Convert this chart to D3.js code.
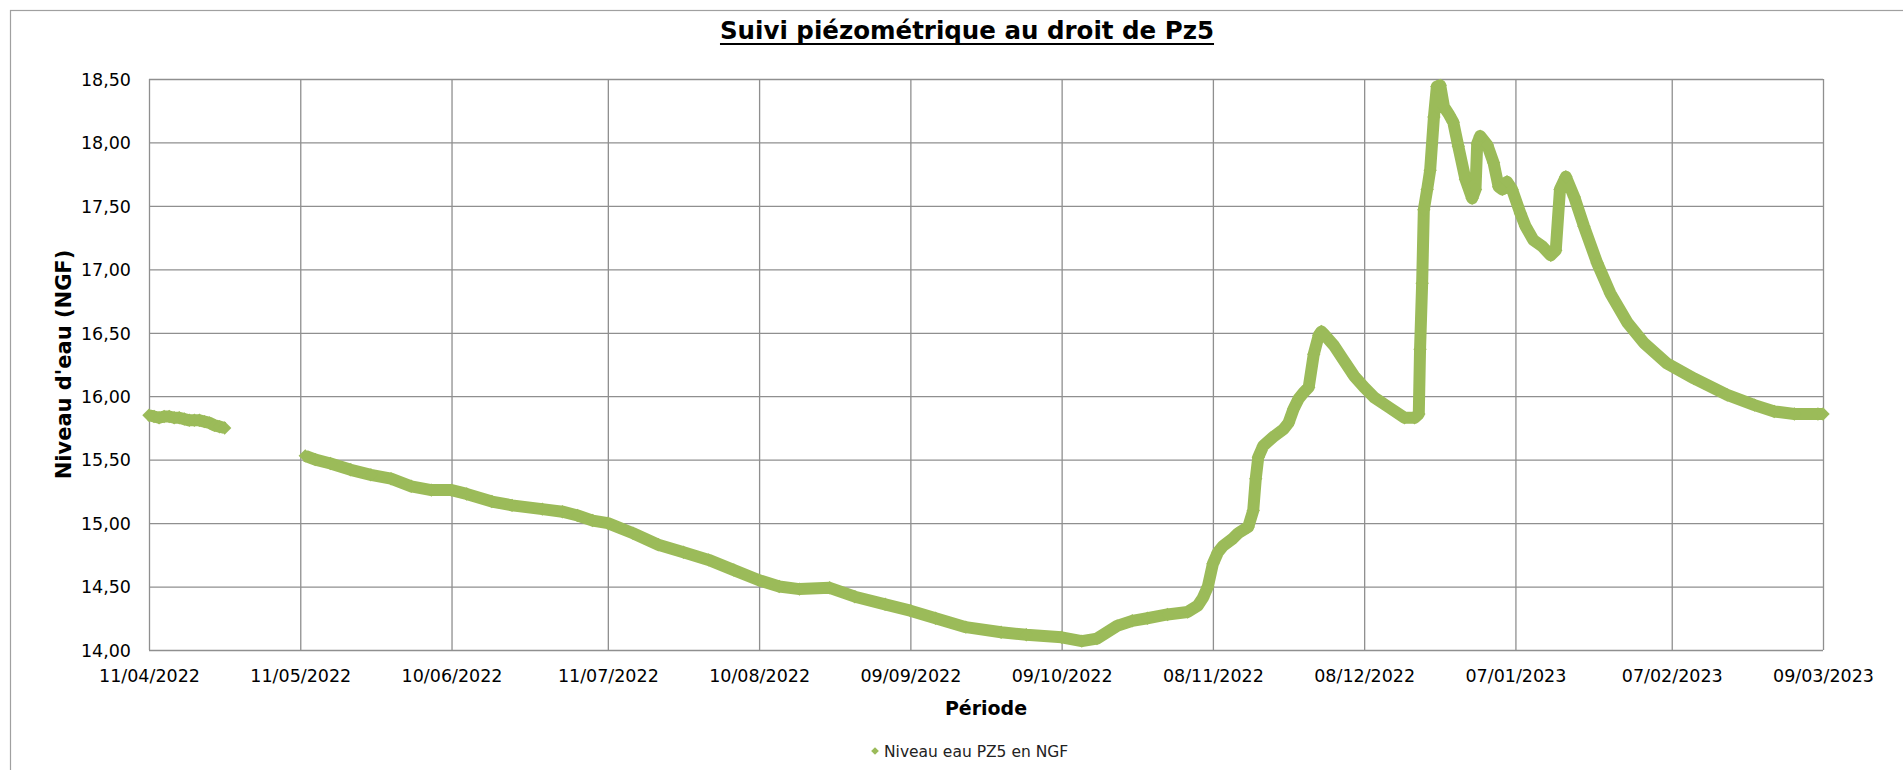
<!DOCTYPE html>
<html>
<head>
<meta charset="utf-8">
<script src="https://cdn.jsdelivr.net/npm/d3@7"></script>
<style>
html, body { margin: 0; padding: 0; background: #fff; overflow: hidden; }
svg { display: block; font-family: "DejaVu Sans", sans-serif; }
</style>
</head>
<body>
<svg id="chart" width="1903" height="770"></svg>
<script>
const chartTitle = "Suivi piézométrique au droit de Pz5";
const yTitle = "Niveau d'eau (NGF)";
const xTitle = "Période";
const seriesName = "Niveau eau PZ5 en NGF";

const xTickLabels = ["11/04/2022","11/05/2022","10/06/2022","11/07/2022","10/08/2022","09/09/2022",
    "09/10/2022","08/11/2022","08/12/2022","07/01/2023","07/02/2023","09/03/2023"];
const yTicks = [14, 14.5, 15, 15.5, 16, 16.5, 17, 17.5, 18, 18.5];

// relevés (null = pas de mesure)
const dates = [
    "2022-04-11","2022-04-12","2022-04-13","2022-04-14","2022-04-15","2022-04-16","2022-04-17","2022-04-18",
    "2022-04-19","2022-04-20","2022-04-21","2022-04-22","2022-04-23","2022-04-24","2022-04-25","2022-04-26",
    "2022-05-01",
    "2022-05-12","2022-05-14","2022-05-17","2022-05-21","2022-05-25","2022-05-29","2022-06-02","2022-06-06",
    "2022-06-10","2022-06-13","2022-06-18","2022-06-22","2022-06-28","2022-07-02","2022-07-05","2022-07-08",
    "2022-07-11","2022-07-16","2022-07-21","2022-07-26","2022-07-31","2022-08-05","2022-08-10","2022-08-14",
    "2022-08-18","2022-08-24","2022-08-29","2022-09-04","2022-09-09","2022-09-14","2022-09-20","2022-09-27",
    "2022-10-02","2022-10-09","2022-10-13","2022-10-16","2022-10-20","2022-10-23","2022-10-26","2022-10-30",
    "2022-11-03","2022-11-05","2022-11-06","2022-11-07","2022-11-08","2022-11-09","2022-11-10","2022-11-12",
    "2022-11-13","2022-11-15","2022-11-16","2022-11-16 12:00","2022-11-17","2022-11-18","2022-11-20","2022-11-22",
    "2022-11-23","2022-11-24","2022-11-25","2022-11-26","2022-11-27","2022-11-28","2022-11-29","2022-11-29 12:00",
    "2022-11-30","2022-12-02","2022-12-04","2022-12-06","2022-12-08","2022-12-10","2022-12-13","2022-12-16",
    "2022-12-18","2022-12-18 20:00","2022-12-19 02:00","2022-12-19 12:00","2022-12-19 20:00","2022-12-20 12:00",
    "2022-12-21 02:00","2022-12-21 20:00","2022-12-22 10:00","2022-12-23 02:00","2022-12-23 20:00",
    "2022-12-24 20:00","2022-12-25 16:00","2022-12-26 16:00","2022-12-28 02:00","2022-12-29 10:00",
    "2022-12-30 02:00","2022-12-30 10:00","2022-12-31","2023-01-01 10:00","2023-01-02 16:00","2023-01-03 16:00",
    "2023-01-04 10:00","2023-01-05 08:00","2023-01-06 08:00","2023-01-08","2023-01-09","2023-01-10 14:00",
    "2023-01-12 08:00","2023-01-14","2023-01-15","2023-01-15 20:00","2023-01-17","2023-01-18 16:00",
    "2023-01-20 14:00","2023-01-23 05:00","2023-01-25 20:00","2023-01-29 05:00","2023-02-01 12:00","2023-02-06",
    "2023-02-11 10:00","2023-02-18","2023-02-23 10:00","2023-02-27 08:00","2023-03-03 08:00","2023-03-08",
    "2023-03-09"
];
const levels = [
    15.85,15.84,15.83,15.84,15.84,15.83,15.83,15.82,
    15.81,15.81,15.81,15.80,15.79,15.77,15.76,15.75,
    null,
    15.53,15.50,15.47,15.42,15.38,15.35,15.29,15.26,
    15.26,15.23,15.17,15.14,15.11,15.09,15.06,15.02,
    15.00,14.92,14.83,14.77,14.71,14.63,14.55,14.50,
    14.48,14.49,14.42,14.36,14.31,14.25,14.18,14.14,
    14.12,14.10,14.07,14.09,14.19,14.23,14.25,14.28,
    14.30,14.35,14.41,14.50,14.68,14.77,14.82,14.88,
    14.92,14.97,15.10,15.35,15.52,15.61,15.68,15.74,
    15.79,15.90,15.98,16.03,16.07,16.33,16.48,16.51,
    16.49,16.40,16.28,16.16,16.07,15.99,15.91,15.83,
    15.83,15.86,16.37,16.89,17.47,17.63,
    17.78,18.20,18.44,18.45,18.28,
    18.22,18.16,17.97,17.71,17.56,
    17.63,17.99,18.05,17.98,17.84,17.65,
    17.63,17.69,17.63,17.44,17.34,17.23,
    17.18,17.11,17.15,17.63,17.73,17.57,
    17.34,17.05,16.81,16.58,16.42,16.26,
    16.14,16.01,15.93,15.88,15.86,15.86,
    15.86
];

const W = 1903, H = 770;
const plot = {left: 149, right: 1823, top: 79, bottom: 650};
const green = "#9BBB59", gridCol = "#8f8f8f";

const parseDay = d3.timeParse("%Y-%m-%d"), parseHour = d3.timeParse("%Y-%m-%d %H:%M");
const parseLabel = d3.timeParse("%d/%m/%Y");
const data = dates.map((s, i) => ({t: s.length > 10 ? parseHour(s) : parseDay(s), v: levels[i]}));
const xTicks = xTickLabels.map(parseLabel);

const svg = d3.select("#chart");

svg.append("rect")
    .attr("x", 10.5).attr("y", 10.5)
    .attr("width", 2000).attr("height", 1000)
    .attr("fill", "#fff").attr("stroke", "#a0a0a0").attr("stroke-width", 1.2);

const x = d3.scaleTime()
    .domain([xTicks[0], xTicks[xTicks.length - 1]])
    .range([plot.left, plot.right]);
const y = d3.scaleLinear()
    .domain([14, 18.5])
    .range([plot.bottom, plot.top]);

const fmtY = d => d3.format(".2f")(d).replace(".", ",");

const gx = svg.append("g")
    .attr("transform", `translate(0,${plot.bottom})`)
    .call(d3.axisBottom(x).tickValues(xTicks).tickSize(-(plot.bottom - plot.top))
        .tickFormat((d, i) => xTickLabels[i]));
const gy = svg.append("g")
    .attr("transform", `translate(${plot.left},0)`)
    .call(d3.axisLeft(y).tickValues(yTicks).tickSize(-(plot.right - plot.left)).tickFormat(fmtY));

[gx, gy].forEach(g => {
    g.select(".domain").remove();
    g.selectAll(".tick line").attr("stroke", gridCol).attr("stroke-width", 1.3);
    g.selectAll(".tick text").attr("fill", "#000")
        .style("font-family", "'DejaVu Sans', sans-serif").style("font-size", "17.5px");
});
gx.selectAll(".tick text").attr("y", 32).attr("dy", 0);
gy.selectAll(".tick text").attr("x", -18).attr("dy", "0.36em");

// série
const line = d3.line()
    .defined(d => d.v != null)
    .x(d => x(d.t)).y(d => y(d.v));

svg.append("path")
    .datum(data)
    .attr("d", line)
    .attr("fill", "none")
    .attr("stroke", green)
    .attr("stroke-width", 12)
    .attr("stroke-linejoin", "round");

const diamond = {
    draw(ctx, size) {
        const r = Math.sqrt(size / 2);
        ctx.moveTo(0, -r); ctx.lineTo(r, 0); ctx.lineTo(0, r); ctx.lineTo(-r, 0); ctx.closePath();
    }
};

svg.append("g").selectAll("path")
    .data(data.filter(d => d.v != null))
    .enter().append("path")
    .attr("transform", d => `translate(${x(d.t)},${y(d.v)})`)
    .attr("d", d3.symbol().type(diamond).size(90))
    .attr("fill", green);

// titres
const title = svg.append("text")
    .attr("x", 967).attr("y", 38.5)
    .attr("text-anchor", "middle")
    .style("font-size", "24.5px").style("font-weight", "bold")
    .attr("fill", "#000")
    .text(chartTitle);
const tl = title.node().getComputedTextLength();
svg.append("line")
    .attr("x1", 967 - tl / 2).attr("x2", 967 + tl / 2)
    .attr("y1", 44).attr("y2", 44)
    .attr("stroke", "#000").attr("stroke-width", 1.8);

svg.append("text")
    .attr("transform", `translate(71,${(plot.top + plot.bottom) / 2}) rotate(-90)`)
    .attr("text-anchor", "middle")
    .style("font-size", "21px").style("font-weight", "bold")
    .attr("fill", "#000")
    .text(yTitle);

svg.append("text")
    .attr("x", (plot.left + plot.right) / 2).attr("y", 715)
    .attr("text-anchor", "middle")
    .style("font-size", "19px").style("font-weight", "bold")
    .attr("fill", "#000")
    .text(xTitle);

// légende
const leg = svg.append("g").attr("transform", "translate(875,751)");
leg.append("path")
    .attr("d", d3.symbol().type(diamond).size(30))
    .attr("fill", green);
leg.append("text")
    .attr("x", 9).attr("y", 5.5)
    .style("font-size", "15.5px")
    .attr("fill", "#222")
    .text(seriesName);
</script>
</body>
</html>
